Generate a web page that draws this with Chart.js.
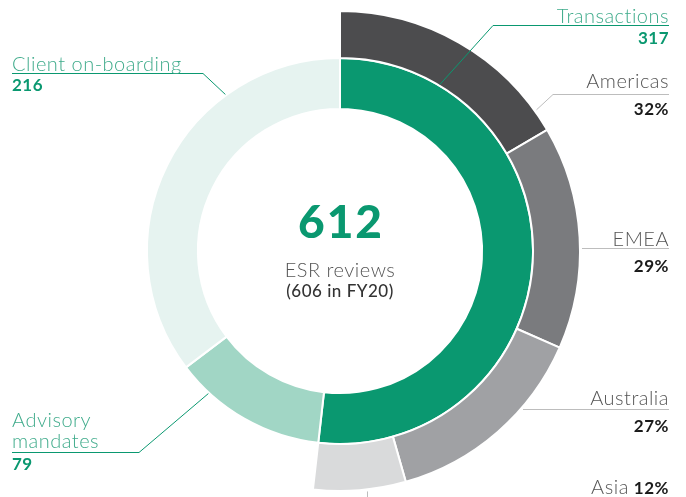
<!DOCTYPE html>
<html lang="en">
<head>
  <meta charset="UTF-8">
  <title>ESR reviews</title>
  <script src="https://cdn.jsdelivr.net/npm/chart.js"></script>
  <style>
    body { margin: 0; background: #fff; }
    .chart-box { width: 686px; height: 497px; position: relative; }
  </style>
</head>
<body>
  <div class="chart-box">
    <canvas id="esrChart" width="686" height="497"></canvas>
  </div>
  <script>
    // review types (inner ring)
    const typeLabels = ['Transactions', 'Advisory mandates', 'Client on-boarding'];
    const typeValues = [317, 79, 216];
    const typeColors = ['#0a9870', '#a1d6c5', '#e6f3f0'];

    // regional split of transactions (outer ring), in %
    const regionLabels = ['Americas', 'EMEA', 'Australia', 'Asia'];
    const regionShares = [32, 29, 27, 12];
    const regionColors = ['#4c4c4e', '#7a7b7e', '#a0a1a4', '#d9dadb'];

    const totalReviews = 612;
    const centerLines = ['ESR reviews', '(606 in FY20)'];

    const typeTotal = typeValues.reduce((a, b) => a + b, 0);
    const transArc = 360 * typeValues[0] / typeTotal;

    const FONT = 'Lato, sans-serif';
    const GREEN_TXT = '#3fab8b';
    const GREEN = '#0a9870';
    const LIGHT = '300 20px ' + FONT;
    const BOLD = 'bold 17px ' + FONT;

    // point on an arc element: fraction along the arc, radius offset
    function arcPoint(arc, frac, edge) {
      const p = arc.getProps(['x', 'y', 'startAngle', 'endAngle', 'innerRadius', 'outerRadius'], true);
      const a = p.startAngle + (p.endAngle - p.startAngle) * frac;
      const r = p.outerRadius + edge;
      return { x: p.x + r * Math.cos(a), y: p.y + r * Math.sin(a) };
    }

    const labelPlugin = {
      id: 'labels',
      afterDraw(chart) {
        const ctx = chart.ctx;
        const outer = chart.getDatasetMeta(0).data;
        const inner = chart.getDatasetMeta(1).data;
        const cx = inner[0].x, cy = inner[0].y;
        ctx.save();

        // centre text
        ctx.textAlign = 'center';
        ctx.fillStyle = GREEN;
        ctx.letterSpacing = '2px';
        ctx.font = '900 46px ' + FONT;
        ctx.fillText(String(totalReviews), cx + 1, cy - 13);
        ctx.letterSpacing = '0.5px';
        ctx.fillStyle = '#555';
        ctx.font = '300 20px ' + FONT;
        ctx.fillText(centerLines[0], cx, cy + 26);
        ctx.fillStyle = '#333';
        ctx.font = '500 17px ' + FONT;
        ctx.fillText(centerLines[1], cx, cy + 46);

        function line(pts, color) {
          ctx.beginPath();
          ctx.strokeStyle = color;
          ctx.lineWidth = 1;
          ctx.moveTo(pts[0].x, pts[0].y);
          for (let i = 1; i < pts.length; i++) ctx.lineTo(pts[i].x, pts[i].y);
          ctx.stroke();
        }

        // Transactions (right, green)
        let a = arcPoint(inner[0], 0.166, 1);
        line([a, { x: 493, y: 25.5 }, { x: 669, y: 25.5 }], GREEN);
        ctx.textAlign = 'right';
        ctx.fillStyle = GREEN_TXT;
        ctx.font = LIGHT;
        ctx.fillText(typeLabels[0], 669, 23);
        ctx.fillStyle = GREEN;
        ctx.font = BOLD;
        ctx.fillText(String(typeValues[0]), 669, 44);

        // Client on-boarding (left top)
        a = arcPoint(inner[2], 0.715, 1);
        line([a, { x: 203, y: 73.5 }, { x: 12, y: 73.5 }], GREEN);
        ctx.textAlign = 'left';
        ctx.fillStyle = GREEN_TXT;
        ctx.font = LIGHT;
        ctx.fillText(typeLabels[2], 12, 71);
        ctx.fillStyle = GREEN;
        ctx.font = BOLD;
        ctx.fillText(String(typeValues[2]), 12, 91);

        // Advisory mandates (left bottom)
        a = arcPoint(inner[1], 0.78, 1);
        line([a, { x: 139, y: 452.5 }, { x: 12, y: 452.5 }], GREEN);
        ctx.fillStyle = GREEN_TXT;
        ctx.font = LIGHT;
        const words = typeLabels[1].split(' ');
        ctx.fillText(words[0], 12, 427);
        ctx.fillText(words[1], 12, 448);
        ctx.fillStyle = GREEN;
        ctx.font = BOLD;
        ctx.fillText(String(typeValues[1]), 12, 470);

        // regions (right, grey)
        const GREY_LINE = '#bdbdbd';
        ctx.textAlign = 'right';
        // Americas
        a = arcPoint(outer[0], 0.91, 2);
        line([a, { x: 553, y: 94.5 }, { x: 669, y: 94.5 }], GREY_LINE);
        // EMEA
        a = arcPoint(outer[1], 0.57, 2);
        line([{ x: a.x, y: 248.5 }, { x: 669, y: 248.5 }], GREY_LINE);
        // Australia
        a = arcPoint(outer[2], 0.34, 2);
        line([{ x: a.x, y: 409.5 }, { x: 669, y: 409.5 }], GREY_LINE);
        // Asia tick
        a = arcPoint(outer[3], 0.42, 2);
        line([{ x: Math.round(a.x) + 0.5, y: a.y }, { x: Math.round(a.x) + 0.5, y: 497 }], GREY_LINE);

        const nameY = [88, 246, 405];
        const pctY = [115, 272, 432];
        for (let i = 0; i < 3; i++) {
          ctx.fillStyle = '#555';
          ctx.font = LIGHT;
          ctx.fillText(regionLabels[i], 669, nameY[i]);
          ctx.fillStyle = '#1a1a1a';
          ctx.font = BOLD;
          ctx.fillText(regionShares[i] + '%', 669, pctY[i]);
        }
        // Asia on one line
        ctx.font = BOLD;
        const pctTxt = regionShares[3] + '%';
        const pw = ctx.measureText(pctTxt).width;
        ctx.fillStyle = '#1a1a1a';
        ctx.fillText(pctTxt, 669, 494);
        ctx.fillStyle = '#555';
        ctx.font = LIGHT;
        ctx.fillText(regionLabels[3], 669 - pw - 5, 494);

        ctx.restore();
      }
    };

    new Chart(document.getElementById('esrChart'), {
      type: 'doughnut',
      data: {
        labels: typeLabels,
        datasets: [
          {
            label: 'Transactions by region',
            data: regionShares,
            backgroundColor: regionColors,
            circumference: transArc,
            weight: 47
          },
          {
            label: 'ESR reviews',
            data: typeValues,
            backgroundColor: typeColors,
            weight: 51
          }
        ]
      },
      options: {
        responsive: false,
        devicePixelRatio: 1,
        animation: false,
        cutout: '59.2%',
        borderColor: '#ffffff',
        borderWidth: 2,
        hoverBorderWidth: 2,
        layout: { padding: { left: 99, right: 105, top: 10, bottom: 5 } },
        plugins: {
          legend: { display: false },
          tooltip: { enabled: false }
        }
      },
      plugins: [labelPlugin]
    });
  </script>
</body>
</html>
